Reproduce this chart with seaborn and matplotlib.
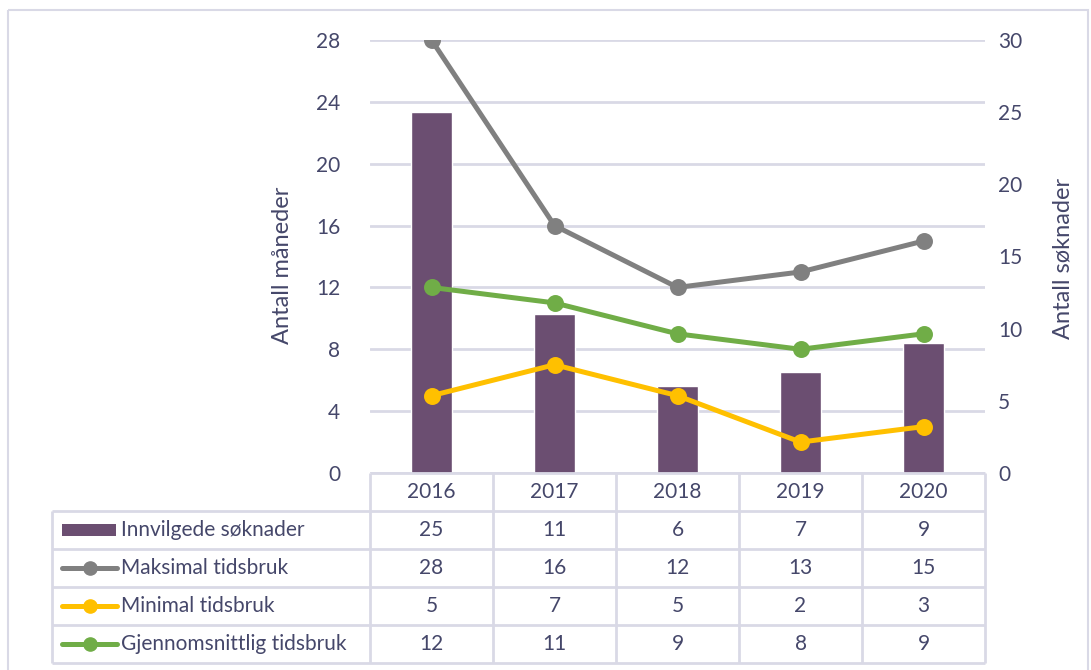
import matplotlib
matplotlib.use('Agg')
import matplotlib.pyplot as plt
from matplotlib.patches import Rectangle
import seaborn as sns

# data
years = ['2016', '2017', '2018', '2019', '2020']
innvilgede = [25, 11, 6, 7, 9]
maksimal = [28, 16, 12, 13, 15]
minimal = [5, 7, 5, 2, 3]
snitt = [12, 11, 9, 8, 9]

row_names = ['Innvilgede søknader', 'Maksimal tidsbruk', 'Minimal tidsbruk', 'Gjennomsnittlig tidsbruk']

bar_color = '#6b4e71'
grey = '#808080'
yellow = '#ffc000'
green = '#70ad47'
text_color = '#45476a'
grid_color = '#d9d9e6'

sns.set_style('white')
plt.rcParams['font.family'] = ['Lato', 'DejaVu Sans']

W, H = 1091, 670
fig = plt.figure(figsize=(W / 100, H / 100), dpi=100)

# main plot area
ax = fig.add_axes([370 / W, (H - 473) / H, 615 / W, 433 / H])
ax.set_ylim(0, 28)
ax.set_yticks(range(0, 29, 4))
ax.grid(axis='y', color=grid_color, linewidth=2)
ax.set_axisbelow(True)

ax_bar = ax.twinx()
sns.barplot(x=years, y=innvilgede, color=bar_color, saturation=1, width=0.33, ax=ax_bar)
ax_bar.set_ylim(0, 30)
ax_bar.set_yticks(range(0, 31, 5))

ax_line = ax.twinx()
for vals, c in [(maksimal, grey), (minimal, yellow), (snitt, green)]:
    sns.pointplot(x=years, y=vals, color=c, errorbar=None, markers='o',
                  linewidth=3.6, markersize=9.5, ax=ax_line)
ax_line.set_ylim(0, 28)
ax_line.set_yticks([])
ax.set_xlim(-0.5, 4.5)

for a in (ax, ax_bar, ax_line):
    for s in a.spines.values():
        s.set_visible(False)
    a.tick_params(bottom=False, labelbottom=False, left=False, right=False,
                  labelcolor=text_color, labelsize=15)
    a.set_xlabel('')
ax.tick_params(axis='y', pad=18)
ax_bar.tick_params(axis='y', pad=6)

ax.set_ylabel('Antall måneder', fontsize=17, color=text_color)
ax.yaxis.set_label_coords(-0.125, 0.48)
ax_bar.set_ylabel('Antall søknader', fontsize=17, color=text_color)
ax_bar.yaxis.set_label_coords(1.11, 0.495)

# data table below the chart, drawn in pixel space
tab = fig.add_axes([0, 0, 1, 1])
tab.set_xlim(0, W)
tab.set_ylim(H, 0)
tab.axis('off')
tab.patch.set_visible(False)

col_edges = [370 + i * 123 for i in range(6)]
row_edges = [473, 511, 549, 587, 625, 663]
lkw = dict(color=grid_color, linewidth=2, solid_capstyle='butt')
tab.plot([370, 985], [473, 473], **lkw)
for y in row_edges[1:]:
    tab.plot([52, 985], [y, y], **lkw)
tab.plot([52, 52], [511, 663], **lkw)
for x in col_edges:
    tab.plot([x, x], [473, 663], **lkw)

centers = [(col_edges[i] + col_edges[i + 1]) / 2 for i in range(5)]
for xc, yr in zip(centers, years):
    tab.text(xc, 492, yr, ha='center', va='center', fontsize=15, color=text_color)

table_rows = [innvilgede, maksimal, minimal, snitt]
for r, vals in enumerate(table_rows):
    yc = (row_edges[r + 1] + row_edges[r + 2]) / 2
    for xc, v in zip(centers, vals):
        tab.text(xc, yc, str(v), ha='center', va='center', fontsize=15, color=text_color)
    tab.text(121, yc, row_names[r], ha='left', va='center', fontsize=15, color=text_color)
    if r == 0:
        tab.add_patch(Rectangle((62, yc - 6), 54, 12, color=bar_color, linewidth=0))
    else:
        c = [grey, yellow, green][r - 1]
        tab.plot([62, 117], [yc, yc], color=c, linewidth=3.6, solid_capstyle='round')
        tab.plot([89.5], [yc], 'o', color=c, markersize=9.5)

# outer frame
tab.add_patch(Rectangle((8, 10), 1080, 665, fill=False, edgecolor=grid_color, linewidth=1.5))

fig.savefig('out.png', dpi=100)
